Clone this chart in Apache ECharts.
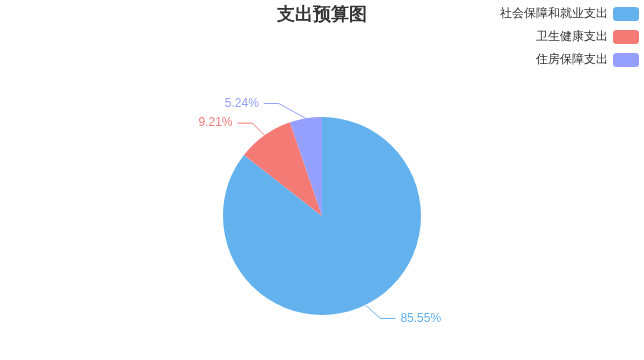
<!DOCTYPE html>
<html><head><meta charset="utf-8">
<script src="https://cdn.jsdelivr.net/npm/echarts@6/dist/echarts.min.js"></script>
<style>html,body{margin:0;padding:0;background:#fff}#c{width:644px;height:360px}</style>
</head><body><div id="c"></div>
<script>
var categories = ['社会保障和就业支出', '卫生健康支出', '住房保障支出'];
var values = [85.55, 9.21, 5.24];
var colors = ['#63b2ee', '#f47a75', '#959ffd'];
var LEN = 15, LEN2 = 15, DIST = 5;
var chart = echarts.init(document.getElementById('c'));
chart.setOption({
  title: { text: '支出预算图', left: 'center', top: 1, textStyle: { fontSize: 18, fontWeight: 'bold', color: '#333' } },
  legend: { orient: 'vertical', right: 0, top: 2, align: 'right', itemWidth: 26, itemHeight: 14, itemGap: 9,
    icon: 'roundRect', textStyle: { fontSize: 12, color: '#333' }, data: categories },
  color: colors,
  series: [{
    type: 'pie', radius: '55%', center: ['50%', '60%'],
    label: { formatter: '{d}%', fontSize: 12 },
    labelLine: { length: LEN, length2: LEN2 },
    labelLayout: function (params) {
      var pts = params.labelLinePoints;
      if (!pts) return {};
      var cx = chart.getWidth() * 0.5, cy = chart.getHeight() * 0.6;
      var p0 = pts[0];
      var vx = p0[0] - cx, vy = p0[1] - cy;
      var r = Math.sqrt(vx * vx + vy * vy);
      var dir = vx < 0 ? -1 : 1;
      var y = cy + (r + LEN) * vy / r;
      var dy = Math.abs(y - cy);
      var R = r + LEN + LEN2;
      var dx = dy < r + LEN ? Math.sqrt(R * R - dy * dy) : Math.abs(pts[2][0] - cx);
      var textX = cx + dx * dir;
      var endX = textX - DIST * dir;
      var elbowX = endX - LEN2 * dir;
      return {
        x: textX, y: y, align: dir > 0 ? 'left' : 'right', verticalAlign: 'middle',
        labelLinePoints: [[p0[0], p0[1]], [elbowX, y], [endX, y]]
      };
    },
    data: categories.map(function (n, i) { return { name: n, value: values[i], label: { color: colors[i] } }; })
  }]
});
</script></body></html>
